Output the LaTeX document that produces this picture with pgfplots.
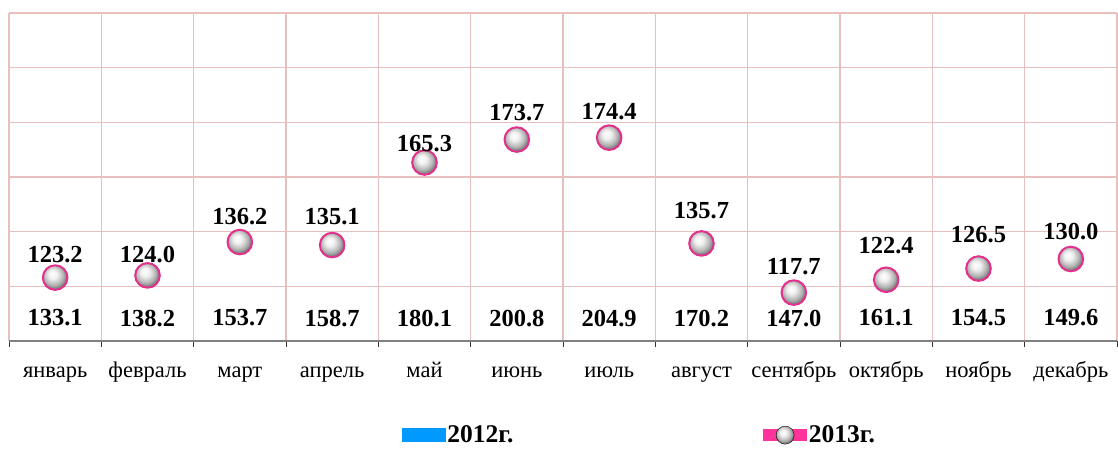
\documentclass[border=0pt]{standalone}
\usepackage{fontspec}
\setmainfont{Liberation Serif}
\usepackage{pgfplots}
\pgfplotsset{compat=1.18}
\usepackage{pgfplotstable}
\definecolor{gridpink}{RGB}{232,190,190}
\definecolor{ballpink}{RGB}{226,48,140}
\definecolor{legblue}{RGB}{0,153,255}
\definecolor{legpink}{RGB}{255,51,153}
\pgfdeclareradialshading{myball}{\pgfpoint{-6bp}{8bp}}{color(0bp)=(white); color(9bp)=(white!94!black); color(20bp)=(black!30); color(27bp)=(black!55); color(50bp)=(black!55)}
\pgfdeclareplotmark{myball}{\pgfpathcircle{\pgfpointorigin}{\pgfplotmarksize}\pgfshadepath{myball}{0}\pgfusepath{stroke}}
\pgfplotstableread{
x y13 ly lab13 yl12 lab12
0 123.2 131.5 123.2 108.4 133.1
1 124.0 131.5 124.0 108.4 138.2
2 136.2 145.5 136.2 108.4 153.7
3 135.1 145.4 135.1 108.4 158.7
4 165.3 172.4 165.3 108.4 180.1
5 173.7 183.4 173.7 108.4 200.8
6 174.4 183.8 174.4 108.4 204.9
7 135.7 147.9 135.7 108.4 170.2
8 117.7 127.1 117.7 108.4 147.0
9 122.4 134.8 122.4 108.4 161.1
10 126.5 138.8 126.5 108.4 154.5
11 130.0 139.9 130.0 108.4 149.6
}\data
\begin{document}
\begin{tikzpicture}
\useasboundingbox (-9pt,-108pt) rectangle (1109pt,341pt);
\begin{axis}[
  at={(0pt,0pt)}, anchor=south west,
  scale only axis, width=1108pt, height=328pt,
  xmin=-0.5, xmax=11.5, ymin=100, ymax=220,
  axis x line=bottom, axis y line=left,
  x axis line style={-, draw=gray, line width=2pt},
  y axis line style={draw=none},
  ytick={100,120,...,220}, yticklabels={}, ytick style={draw=none},
  ymajorgrids, xminorgrids,
  major grid style={gridpink, line width=1.4pt},
  minor grid style={gridpink, line width=1.4pt},
  xtick={0,...,11},
  xticklabels={январь,февраль,март,апрель,май,июнь,июль,август,сентябрь,октябрь,ноябрь,декабрь},
  major tick length=0pt,
  minor xtick={-0.5,0.5,...,11.5},
  minor tick length=6pt, tick align=outside,
  minor x tick style={black!80, line width=0.9pt},
  xticklabel style={font=\fontsize{22.5}{22.5}\selectfont, anchor=base, yshift=-37pt},
  clip=false,
  legend style={at={(0.569,-0.287)}, anchor=center, draw=none, fill=none,
    font=\bfseries\fontsize{25.5}{25.5}\selectfont, legend columns=2,
    /tikz/every even column/.append style={column sep=248pt}},
]
\addplot[forget plot, only marks, mark=myball, mark size=12.3pt, mark options={draw=ballpink, line width=2pt}]
  table[x=x, y=y13]{\data};
\addplot[forget plot, draw=none, mark=none, nodes near coords, point meta=explicit symbolic,
  every node near coord/.append style={anchor=center, inner sep=0pt, black, font=\bfseries\fontsize{24.5}{24.5}\selectfont}]
  table[x=x, y=ly, meta=lab13]{\data};
\addplot[forget plot, draw=none, mark=none, nodes near coords, point meta=explicit symbolic,
  every node near coord/.append style={anchor=center, inner sep=0pt, black, font=\bfseries\fontsize{24.5}{24.5}\selectfont}]
  table[x=x, y=yl12, meta=lab12]{\data};
\addlegendimage{legend image code/.code={\fill[legblue] (0pt,-6.5pt) rectangle (43pt,6.5pt);}}
\addlegendentry{2012г.}
\addlegendimage{legend image code/.code={\fill[legpink] (0pt,-5.5pt) rectangle (43pt,5.5pt); \shade[shading=myball] (21.5pt,0pt) circle (9pt);}}
\addlegendentry{2013г.}
\end{axis}
\end{tikzpicture}
\end{document}
